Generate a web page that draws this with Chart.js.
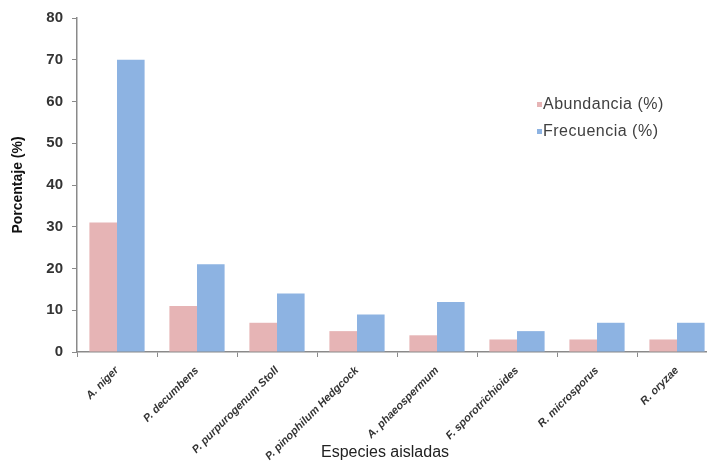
<!DOCTYPE html>
<html>
<head>
<meta charset="utf-8">
<script src="https://cdn.jsdelivr.net/npm/chart.js@4/dist/chart.umd.min.js"></script>
<style>
  html, body { margin: 0; padding: 0; background: #fff; overflow: hidden; }
  canvas { display: block; }
</style>
</head>
<body>
<canvas id="c" width="720" height="466"></canvas>
<script>
// Especies fúngicas aisladas
const especies = [
  'A. niger',
  'P. decumbens',
  'P. purpurogenum Stoll',
  'P. pinophilum Hedgcock',
  'A. phaeospermum',
  'F. sporotrichioides',
  'R. microsporus',
  'R. oryzae'
];
// Porcentajes por especie
const abundancia = [31, 11, 7, 5, 4, 3, 3, 3];
const frecuencia = [70, 21, 14, 9, 12, 5, 7, 7];
const yTicks = [0, 10, 20, 30, 40, 50, 60, 70, 80];

const axisColor = '#8a8a8a';
const textColor = '#333333';

// Leyenda dentro del área del gráfico y título del eje X
const overlay = {
  id: 'overlay',
  afterDraw(chart) {
    const ctx = chart.ctx;
    const a = chart.chartArea;
    ctx.save();
    // título eje X
    ctx.font = '16px "Liberation Sans", Arial, sans-serif';
    ctx.fillStyle = '#222';
    ctx.textAlign = 'center';
    ctx.textBaseline = 'middle';
    ctx.fillText('Especies aisladas', (a.left + a.right) / 2 - 12, 453);
    // leyenda
    ctx.font = '16px "Liberation Sans", Arial, sans-serif';
    ctx.letterSpacing = '0.5px';
    ctx.textAlign = 'left';
    const x0 = a.right - 180, y0 = 105, gap = 27;
    chart.data.datasets.forEach((ds, i) => {
      const y = y0 + i * gap;
      ctx.fillStyle = ds.backgroundColor;
      ctx.fillRect(x0, y - 3, 5, 5);
      ctx.fillStyle = '#404040';
      ctx.fillText(ds.label, x0 + 6, y);
    });
    ctx.restore();
  }
};

new Chart(document.getElementById('c'), {
  type: 'bar',
  data: {
    labels: especies,
    datasets: [
      { label: 'Abundancia (%)', data: abundancia, backgroundColor: '#E6B4B5' },
      { label: 'Frecuencia (%)', data: frecuencia, backgroundColor: '#8DB3E2' }
    ]
  },
  options: {
    responsive: false,
    animation: false,
    layout: { padding: { left: 1, right: 3, top: 14, bottom: 0 } },
    datasets: { bar: { categoryPercentage: 0.69, barPercentage: 1 } },
    plugins: { legend: { display: false }, tooltip: { enabled: false } },
    scales: {
      x: {
        grid: { display: true, drawOnChartArea: false, offset: true, color: axisColor, tickLength: 5 },
        border: { color: axisColor, width: 1.5 },
        ticks: {
          minRotation: 45, maxRotation: 45, autoSkip: false, padding: 7,
          color: textColor,
          font: { family: '"Liberation Sans", Arial, sans-serif', size: 11, style: 'italic', weight: 'bold' }
        },
        afterFit(scale) { scale.height = 114; }
      },
      y: {
        min: 0, max: 80,
        afterBuildTicks(scale) { scale.ticks = yTicks.map(v => ({ value: v })); },
        grid: { display: true, drawOnChartArea: false, color: axisColor, tickLength: 5 },
        border: { color: axisColor, width: 1.5 },
        ticks: {
          padding: 9, color: textColor,
          font: { family: '"Liberation Sans", Arial, sans-serif', size: 15, weight: 'bold' }
        },
        title: {
          display: true, text: 'Porcentaje (%)', color: '#111',
          padding: { top: 9, bottom: 0 },
          font: { family: '"Liberation Sans", Arial, sans-serif', size: 14, weight: 'bold' }
        },
        afterFit(scale) { scale.width = 76; }
      }
    }
  },
  plugins: [overlay]
});
</script>
</body>
</html>
